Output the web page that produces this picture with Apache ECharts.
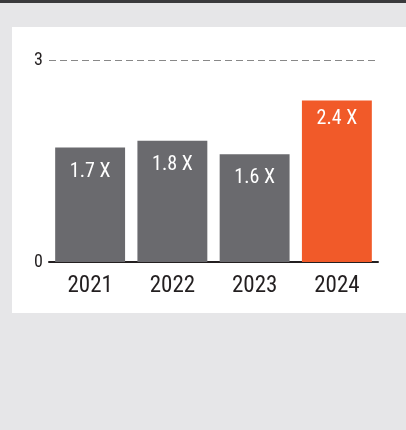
<!DOCTYPE html>
<html>
<head>
<meta charset="utf-8">
<style>
html,body{margin:0;padding:0;background:#e6e6e8;}
#chart{width:406px;height:430px;}
</style>
<script src="https://cdn.jsdelivr.net/npm/echarts@6/dist/echarts.min.js"></script>
</head>
<body>
<div id="chart"></div>
<script>
var categories = ['2021', '2022', '2023', '2024'];
var values = [1.7, 1.8, 1.6, 2.4];
var valueLabels = ['1.7 X', '1.8 X', '1.6 X', '2.4 X'];
var yTicks = [0, 3];

var FONT = '"Roboto Condensed", "Liberation Sans Narrow", "DejaVu Sans Condensed", Roboto, sans-serif';
var chart = echarts.init(document.getElementById('chart'), null, {renderer: 'canvas'});

var data = values.map(function (v, i) {
  var highlight = i === values.length - 1;
  return {
    value: v,
    itemStyle: {color: highlight ? '#f15a29' : '#6a6a6e'},
    label: {distance: highlight ? 9 : 14}
  };
});

chart.setOption({
  backgroundColor: '#e6e6e8',
  animation: false,
  graphic: [
    {type: 'rect', z: -10, shape: {x: 0, y: 0, width: 406, height: 3}, style: {fill: '#3a3a3c'}},
    {type: 'rect', z: -10, shape: {x: 12, y: 27, width: 394, height: 286}, style: {fill: '#ffffff'}}
  ],
  grid: {left: 49, right: 28, top: 60, bottom: 168},
  xAxis: {
    type: 'category',
    data: categories,
    axisLine: {show: true, lineStyle: {color: '#231f20', width: 2}},
    axisTick: {show: false},
    axisLabel: {color: '#231f20', fontSize: 23, fontFamily: FONT, margin: 13}
  },
  yAxis: {
    type: 'value',
    min: yTicks[0],
    max: yTicks[1],
    interval: yTicks[1] - yTicks[0],
    axisLine: {show: false},
    axisTick: {show: false},
    axisLabel: {color: '#231f20', fontSize: 18, fontFamily: FONT, margin: 6},
    splitLine: {show: true, lineStyle: {color: '#888', type: [7, 4], width: 1}}
  },
  series: [{
    type: 'bar',
    data: data,
    barWidth: '85%',
    label: {
      show: true,
      position: 'insideTop',
      color: '#ffffff',
      fontSize: 20,
      fontFamily: FONT,
      formatter: function (p) { return valueLabels[p.dataIndex]; }
    }
  }]
});
</script>
</body>
</html>
